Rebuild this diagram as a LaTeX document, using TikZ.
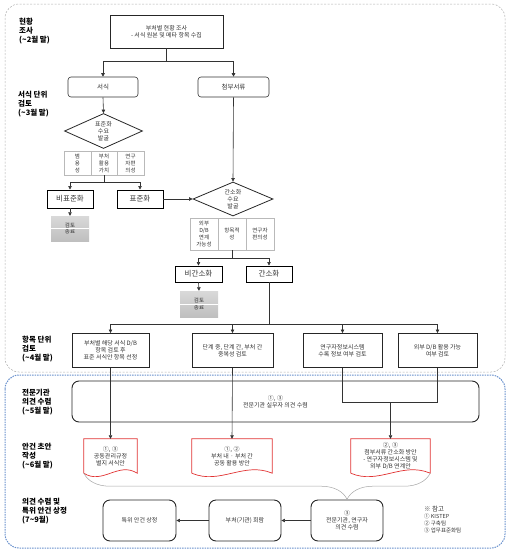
\documentclass[tikz,border=0pt]{standalone}
\usepackage{fontspec}
\setmainfont{Noto Sans CJK KR}
\usetikzlibrary{shapes.geometric,arrows.meta,calc,decorations.pathreplacing}

\definecolor{docred}{RGB}{225,50,50}
\definecolor{frameblue}{RGB}{105,145,205}
\definecolor{txtgray}{RGB}{50,50,50}

\tikzset{
  lab/.style={anchor=west, align=left, inner sep=0pt, font=\fontsize{7.5}{9}\selectfont\bfseries},
  txt/.style={align=center, text=txtgray, inner sep=0pt, font=\fontsize{6}{7}\selectfont},
  tbox/.style={txt, draw=black!85, line width=0.9pt},
  sbox/.style={txt, draw=black!80, line width=0.6pt, rounded corners=3pt, font=\fontsize{6.5}{7.5}\selectfont},
  kbox/.style={txt, draw=black, line width=0.95pt, font=\fontsize{7.5}{9}\selectfont},
  ubox/.style={txt, draw=black!85, line width=0.9pt, rounded corners=7pt},
  dia/.style={txt, draw=black!85, line width=0.8pt, diamond, aspect=2.2},
  cell/.style={txt, draw=gray!55, line width=0.4pt, font=\fontsize{5.5}{7}\selectfont},
  endbox/.style={txt, top color=gray!30, bottom color=gray!50, font=\fontsize{5.5}{6.5}\selectfont},
  docline/.style={draw=docred, line width=0.7pt},
  arr/.style={draw=black!80, line width=0.6pt, -{Triangle[length=3.5pt,width=3.5pt]}},
  conn/.style={draw=black!80, line width=0.6pt},
}

\begin{document}
\begin{tikzpicture}[x=1pt, y=-1pt]
  \useasboundingbox (0,0) rectangle (515,554);
  %frames
  \draw[gray!65, line width=0.5pt, dash pattern=on 2pt off 1.5pt, rounded corners=14] (5,4) rectangle (505,372);
  \draw[frameblue, line width=1pt, dash pattern=on 1.5pt off 1pt, rounded corners=14] (5,375) rectangle (505,548);

  %stage labels
  \node[lab] (l1) at (19,31) {현황\\조사\\(\textasciitilde 2월 말)};
  \node[lab] (l2) at (18,104) {서식 단위\\검토\\(\textasciitilde 3월 말)};
  \node[lab] (l3) at (22,349) {항목 단위\\검토\\(\textasciitilde 4월 말)};
  \node[lab] (l4) at (22,402.5) {전문기관\\의견 수렴\\(\textasciitilde 5월 말)};
  \node[lab] (l5) at (22,456) {안건 초안\\작성\\(\textasciitilde 6월 말)};
  \node[lab] (l6) at (22,511) {의견 수렴 및\\특위 안건 상정\\(7\textasciitilde 9월)};

  %survey
  \node[tbox, minimum width=113, minimum height=33] (survey) at (166.5,31.5) {부처별 현황 조사\\- 서식 원본 및 메타 항목 수집};
  \node[sbox, minimum width=70, minimum height=20] (form) at (103,87) {서식};
  \node[sbox, minimum width=71, minimum height=20] (attach) at (233.5,87) {첨부서류};
  \coordinate (j1) at (166.5,61);
  \draw[arr] (survey.south) -- (j1) -| (form.north);
  \draw[arr] (j1) -| (attach.north);

  %standardization
  \node[dia, minimum width=78, minimum height=35] (dm1) at (103.5,131) {표준화\\수요\\발굴};
  \node[cell, minimum width=26.5, minimum height=24] (t1a) at (77.5,163) {범\\용\\성};
  \node[cell, minimum width=26.5, minimum height=24] (t1b) at (104,163) {부처\\활용\\가치};
  \node[cell, minimum width=26.5, minimum height=24] (t1c) at (130.5,163) {연구\\자편\\의성};
  \node[kbox, minimum width=46, minimum height=18] (bipyo) at (70,199) {비표준화};
  \node[kbox, minimum width=46, minimum height=18] (pyo) at (140,199) {표준화};
  \node[endbox, minimum width=38, minimum height=25] (end1) at (70,228.5) {검토\\종료};
  \draw[white, line width=0.6pt] (end1.west) -- (end1.east);
  \draw[arr] (form.south) -- (dm1.north);
  \coordinate (j2) at (104,182);
  \draw[conn] (t1b.south) -- (j2);
  \draw[arr] (j2) -| (bipyo.north);
  \draw[arr] (j2) -| (pyo.north);
  \draw[arr] (bipyo.south) -- (end1.north);

  %simplification
  \node[dia, minimum width=80, minimum height=34] (dm2) at (233,199) {간소화\\수요\\발굴};
  \node[cell, minimum width=28, minimum height=32] (t2a) at (204,234) {외부\\D/B\\연계\\가능성};
  \node[cell, minimum width=28, minimum height=32] (t2b) at (232,234) {항목적\\성};
  \node[cell, minimum width=28, minimum height=32] (t2c) at (260,234) {연구자\\편의성};
  \node[kbox, minimum width=47, minimum height=16] (bigan) at (198.5,274) {비간소화};
  \node[kbox, minimum width=46, minimum height=16] (gan) at (269,274) {간소화};
  \node[endbox, minimum width=38, minimum height=26] (end2) at (199,304) {검토\\종료};
  \draw[white, line width=0.6pt] (end2.west) -- (end2.east);
  \draw[arr] (attach.south) -- (dm2.north);
  \draw[arr] (pyo.east) -- (dm2.west);
  \coordinate (j3) at (232,258);
  \draw[conn] (t2b.south) -- (j3);
  \draw[arr] (j3) -| (bigan.north);
  \draw[arr] (j3) -| (gan.north);
  \draw[arr] (bigan.south) -- (end2.north);

  %item review
  \node[tbox, minimum width=77, minimum height=34] (r1) at (110.5,350.5) {부처별 해당 서식 D/B\\항목 검토 후\\표준 서식안 항목 선정};
  \node[tbox, minimum width=81, minimum height=34] (r2) at (232.5,350.5) {단계 중, 단계 간, 부처 간\\중복성 검토};
  \node[tbox, minimum width=79, minimum height=34] (r3) at (342.5,350.5) {연구자정보시스템\\수록 정보 여부 검토};
  \node[tbox, minimum width=79, minimum height=34] (r4) at (437.5,350.5) {외부 D/B 활용 가능\\여부 검토};
  \coordinate (j4) at (269,324);
  \draw[conn] (gan.south) -- (j4);
  \draw[arr] (j4) -| (r1.north);
  \draw[arr] (j4) -| (r2.north);
  \draw[arr] (j4) -| (r3.north);
  \draw[arr] (j4) -| (r4.north);

  %agency opinions
  \node[ubox, minimum width=407, minimum height=41] (agency) at (275.5,401.5) {①, ③\\전문기관 실무자 의견 수렴};

  %draft documents
  \node[txt, minimum width=53, minimum height=34] (d1) at (110.5,456) {①, ③\\공동관리규정\\별지 서식안};
  \node[txt, minimum width=80, minimum height=34] (d2) at (232,456) {①, ②\\부처 내 · 부처 간\\공동 활용 방안};
  \node[txt, minimum width=79, minimum height=34] (d3) at (390.5,456) {②, ③\\첨부서류 간소화 방안\\- 연구자정보시스템 및\\외부 D/B 연계안};
  \draw[docline] (d1.south west) -- (d1.north west) -- (d1.north east) -- (d1.south east) .. controls ($(d1.south east)!0.35!(d1.south west)+(0,-12)$) and ($(d1.south east)!0.65!(d1.south west)+(0,12)$) .. (d1.south west);
  \draw[docline] (d2.south west) -- (d2.north west) -- (d2.north east) -- (d2.south east) .. controls ($(d2.south east)!0.35!(d2.south west)+(0,-12)$) and ($(d2.south east)!0.65!(d2.south west)+(0,12)$) .. (d2.south west);
  \draw[docline] (d3.south west) -- (d3.north west) -- (d3.north east) -- (d3.south east) .. controls ($(d3.south east)!0.35!(d3.south west)+(0,-12)$) and ($(d3.south east)!0.65!(d3.south west)+(0,12)$) .. (d3.south west);
  \draw[arr] (r1.south) -- (d1.north);
  \draw[arr] (r2.south) -- (d2.north);
  \coordinate (j5) at (390.5,402);
  \draw[conn] (r3.south) |- (j5);
  \draw[conn] (r4.south) |- (j5);
  \draw[arr] (j5) -- (d3.north);

  %final steps
  \node[ubox, minimum width=72, minimum height=41] (review) at (347,520.5) {③\\전문기관, 연구자\\의견 수렴};
  \node[ubox, minimum width=72, minimum height=41] (circ) at (245,520.5) {부처(기관) 회람};
  \node[ubox, minimum width=73, minimum height=41] (special) at (139.5,520.5) {특위 안건 상정};
  \draw[gray!70, line width=0.5pt, decorate, decoration={brace, mirror, amplitude=26pt, aspect=0.76}] (d1.south west) -- (d3.south east);
  \draw[arr] (review.west) -- (circ.east);
  \draw[arr] (circ.west) -- (special.east);

  %note
  \node[txt, anchor=north west, align=left, font=\fontsize{5.5}{7}\selectfont] (note) at (424,506) {{\fontsize{6.5}{7}\selectfont ※ 참고}\\① KISTEP\\② 구축팀\\③ 업무표준화팀};
\end{tikzpicture}
\end{document}
